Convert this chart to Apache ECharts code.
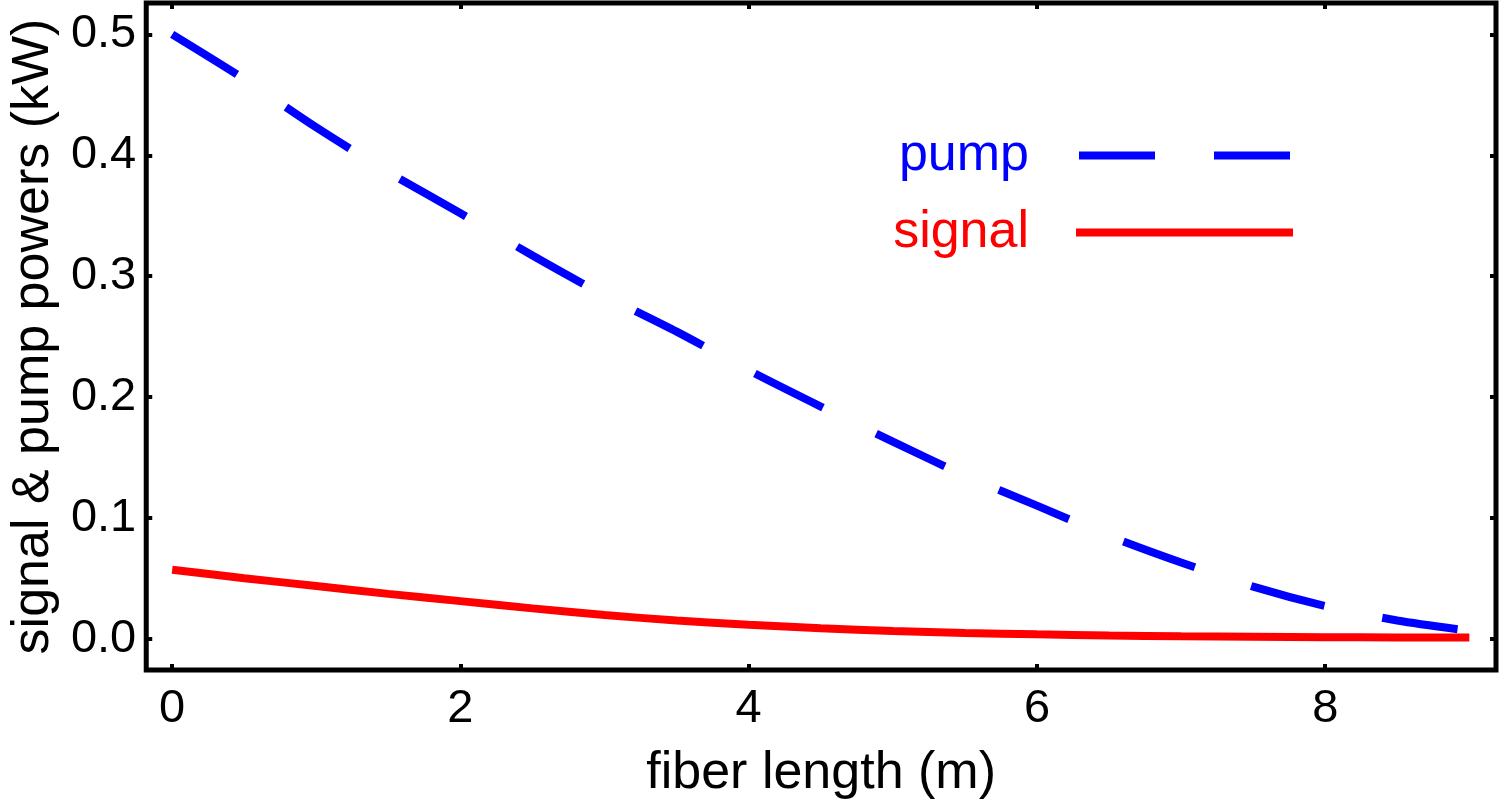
<!DOCTYPE html>
<html>
<head>
<meta charset="utf-8">
<script src="https://cdn.jsdelivr.net/npm/echarts@6/dist/echarts.min.js"></script>
<style>
  html, body { margin: 0; padding: 0; background: #fff; }
  #chart { width: 1500px; height: 807px; }
</style>
</head>
<body>
<div id="chart"></div>
<script>
// ---- data ----
const fiberLength = [0, 0.5, 1, 1.5, 2, 2.5, 3, 3.5, 4, 4.5, 5, 5.5, 6, 6.5, 7, 7.5, 8, 8.5, 9];
const pumpPower = [0.500, 0.463, 0.423, 0.386, 0.352, 0.317, 0.284, 0.254, 0.222, 0.192, 0.163, 0.135, 0.110, 0.085, 0.063, 0.043, 0.027, 0.015, 0.0065];
const signalPower = [0.057, 0.050, 0.0435, 0.037, 0.031, 0.025, 0.0195, 0.015, 0.0115, 0.0086, 0.0063, 0.0047, 0.0035, 0.0026, 0.0019, 0.0015, 0.0012, 0.0010, 0.0009];
const xTicks = [0, 2, 4, 6, 8];
const yTicks = [0, 0.1, 0.2, 0.3, 0.4, 0.5];
const seriesNames = ['pump', 'signal'];

const FONT = "'Liberation Sans', Arial, Helvetica, sans-serif";
const chart = echarts.init(document.getElementById('chart'));

const pairs = (ys) => fiberLength.map((x, i) => [x, ys[i]]);

const tickStyle = { show: true, inside: true, length: 6, lineStyle: { color: '#000', width: 4 } };
const hiddenLine = { show: false, onZero: false };

const option = {
  backgroundColor: '#fff',
  animation: false,
  grid: { left: 145, right: 4, top: 3, bottom: 137, show: true, borderColor: '#000', borderWidth: 5, backgroundColor: 'transparent' },
  legend: {
    orient: 'vertical',
    align: 'right',
    right: 207,
    top: 124,
    padding: 0,
    itemWidth: 217,
    itemHeight: 8,
    itemGap: 14,
    selectedMode: false,
    textStyle: { fontFamily: FONT, fontSize: 52, lineHeight: 63, padding: [0, 42, 0, 0] },
    data: [
      { name: seriesNames[0], icon: 'path://M0,0H76V8H0Z M135,0H211V8H135Z', textStyle: { color: '#0000ff' } },
      { name: seriesNames[1], icon: 'rect', textStyle: { color: '#ff0000' } }
    ]
  },
  xAxis: [
    {
      type: 'value', min: -0.18, max: 9.185, position: 'bottom',
      name: 'fiber length (m)', nameLocation: 'middle', nameGap: 78,
      nameTextStyle: { fontFamily: FONT, fontSize: 52, color: '#000' },
      axisLine: hiddenLine,
      axisTick: Object.assign({ customValues: xTicks }, tickStyle),
      axisLabel: { customValues: xTicks, fontFamily: FONT, fontSize: 47, color: '#000', margin: 16, formatter: (v) => String(v) },
      splitLine: { show: false }
    },
    {
      type: 'value', min: -0.18, max: 9.185, position: 'top',
      axisLine: hiddenLine,
      axisTick: Object.assign({ customValues: xTicks }, tickStyle),
      axisLabel: { show: false },
      splitLine: { show: false }
    }
  ],
  yAxis: [
    {
      type: 'value', min: -0.026, max: 0.526, position: 'left',
      name: 'signal & pump powers (kW)', nameLocation: 'middle', nameGap: 80, nameRotate: 90,
      nameTextStyle: { fontFamily: FONT, fontSize: 52, color: '#000' },
      axisLine: hiddenLine,
      axisTick: Object.assign({ customValues: yTicks }, tickStyle),
      axisLabel: { customValues: yTicks, fontFamily: FONT, fontSize: 47, color: '#000', margin: 10, formatter: (v) => v.toFixed(1) },
      splitLine: { show: false }
    },
    {
      type: 'value', min: -0.026, max: 0.526, position: 'right',
      axisLine: hiddenLine,
      axisTick: Object.assign({ customValues: yTicks }, tickStyle),
      axisLabel: { show: false },
      splitLine: { show: false }
    }
  ],
  series: [
    {
      name: seriesNames[0], type: 'line', smooth: 0.3, symbol: 'none', showSymbol: false,
      xAxisIndex: 0, yAxisIndex: 0,
      color: '#0000ff',
      lineStyle: { color: '#0000ff', width: 8, type: [76, 59], cap: 'butt' },
      data: pairs(pumpPower)
    },
    {
      name: seriesNames[1], type: 'line', smooth: 0.3, symbol: 'none', showSymbol: false,
      xAxisIndex: 0, yAxisIndex: 0,
      color: '#ff0000',
      lineStyle: { color: '#ff0000', width: 8, type: 'solid', cap: 'butt' },
      data: pairs(signalPower)
    }
  ]
};
chart.setOption(option);
</script>
</body>
</html>
